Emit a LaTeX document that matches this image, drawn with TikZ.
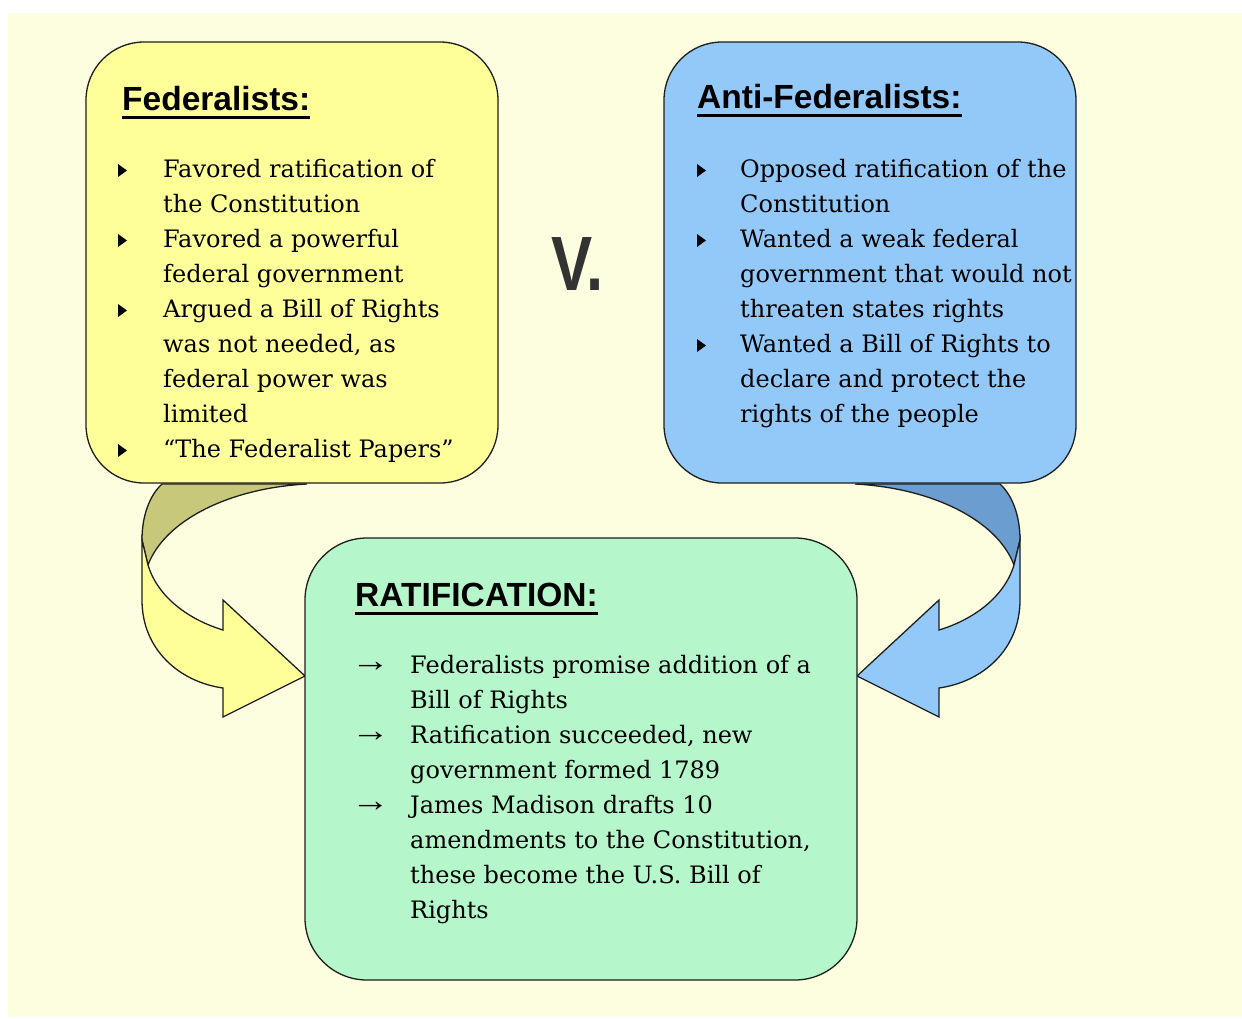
\documentclass[tikz,border=0pt]{standalone}
\usepackage{graphicx}
\usepackage{fontspec}
\setmainfont{DejaVu Serif}
\newfontfamily\headfont{Liberation Sans}
\newfontfamily\arrowglyphfont{Liberation Serif}
\usetikzlibrary{calc}

\definecolor{bgcream}{HTML}{FDFEE0}
\definecolor{fedfill}{HTML}{FFFF99}
\definecolor{fedback}{HTML}{C8C87A}
\definecolor{antifill}{HTML}{93C9F8}
\definecolor{antiback}{HTML}{6B9DD0}
\definecolor{ratfill}{HTML}{B5F7CB}
\definecolor{edgeink}{HTML}{1E1E1E}
\definecolor{vgray}{HTML}{333333}

% curved ribbon arrow: back (twisted) part under the upper box, front part ending in a head
\newcommand\ribbonarrow[2]{%
  \filldraw[fill=#2, draw=edgeink, line width=1.3pt]
    (162,484) -- (307,484) .. controls (230,488) and (165,520) .. (148,565)
    -- (142,540) .. controls (142,515) and (150,495) .. (162,484) -- cycle;
  \filldraw[fill=#1, draw=edgeink, line width=1.3pt]
    (142,540) -- (142,600) .. controls (142,650) and (180,682) .. (223,688)
    -- (223,717) -- (305,676) -- (223,600) -- (223,630)
    .. controls (190,620) and (158,598) .. (148,565) -- cycle;
}

\tikzset{
  panel/.style={draw=edgeink, line width=1.3pt, rounded corners=58pt,
    inner sep=0pt, outer sep=0pt, anchor=north west},
  heading/.style={font=\headfont\bfseries\fontsize{33.5}{40}\selectfont,
    inner sep=0pt, anchor=base west, text=black},
  uline/.style={line width=3pt, black},
  body/.style={font=\fontsize{24}{35}\selectfont, inner sep=0pt,
    anchor=base west, text=black},
  pointer/.style={font=\arrowglyphfont\fontsize{25}{35}\selectfont,
    inner sep=0pt, anchor=base west, text=black},
}

\begin{document}
\begin{tikzpicture}[x=1pt, y=-1pt]
  \useasboundingbox (0,0) rectangle (1242,1018);
  \fill[white] (0,0) rectangle (1242,1018);
  \fill[bgcream] (8,13) rectangle (1242,1017);

  % ribbon arrows into the ratification panel
  \ribbonarrow{fedfill}{fedback}
  \begin{scope}[xshift=1162pt, xscale=-1]
    \ribbonarrow{antifill}{antiback}
  \end{scope}

  % panels
  \node[panel, fill=fedfill, minimum width=412pt, minimum height=441pt] (fed) at (86,42) {};
  \node[panel, fill=antifill, minimum width=412pt, minimum height=441pt] (anti) at (664,42) {};
  \node[panel, fill=ratfill, minimum width=552pt, minimum height=442pt,
        rounded corners=62pt] (rat) at (305,538) {};

  % headings
  \node[heading] (fedtitle) at (122,110) {Federalists:};
  \draw[uline] ($(fedtitle.base west)+(0,7)$) -- ($(fedtitle.base east)+(0,7)$);
  \node[heading] (antititle) at (697,108) {Anti-Federalists:};
  \draw[uline] ($(antititle.base west)+(0,7)$) -- ($(antititle.base east)+(0,7)$);
  \node[heading] (rattitle) at (355,606) {RATIFICATION:};
  \draw[uline] ($(rattitle.base west)+(0,7)$) -- ($(rattitle.base east)+(0,7)$);

  % versus mark
  \node[font=\headfont\bfseries\fontsize{77}{80}\selectfont, text=vgray,
        inner sep=0pt, anchor=base west] (versus) at (551,290) {\scalebox{0.8}[1]{V.}};

  % Federalists
  \foreach \txt [count=\i from 0] in {Favored ratification of, the Constitution,
      Favored a powerful, federal government, Argued a Bill of Rights,
      {was not needed, as}, federal power was, limited, “The Federalist Papers”}
    \node[body] (fedline\i) at (163,{177+35*\i}) {\txt};
  \foreach \i in {0,2,4,8}
    \fill[black] (118,{164+35*\i}) -- ++(0,13) -- ++(9,-6.5) -- cycle;

  % Anti-Federalists
  \foreach \txt [count=\i from 0] in {Opposed ratification of the, Constitution,
      Wanted a weak federal, government that would not, threaten states rights,
      Wanted a Bill of Rights to, declare and protect the, rights of the people}
    \node[body] (antiline\i) at (740,{177+35*\i}) {\txt};
  \foreach \i in {0,2,5}
    \fill[black] (697,{164+35*\i}) -- ++(0,13) -- ++(9,-6.5) -- cycle;

  % Ratification
  \foreach \txt [count=\i from 0] in {Federalists promise addition of a, Bill of Rights,
      {Ratification succeeded, new}, government formed 1789, James Madison drafts 10,
      {amendments to the Constitution,}, these become the U.S. Bill of, Rights}
    \node[body] (ratline\i) at (410,{673+35*\i}) {\txt};
  \foreach \i in {0,2,4}
    \node[pointer] (ratmark\i) at (351,{671+35*\i}) {\scalebox{1.55}[1.3]{→}};
\end{tikzpicture}
\end{document}
